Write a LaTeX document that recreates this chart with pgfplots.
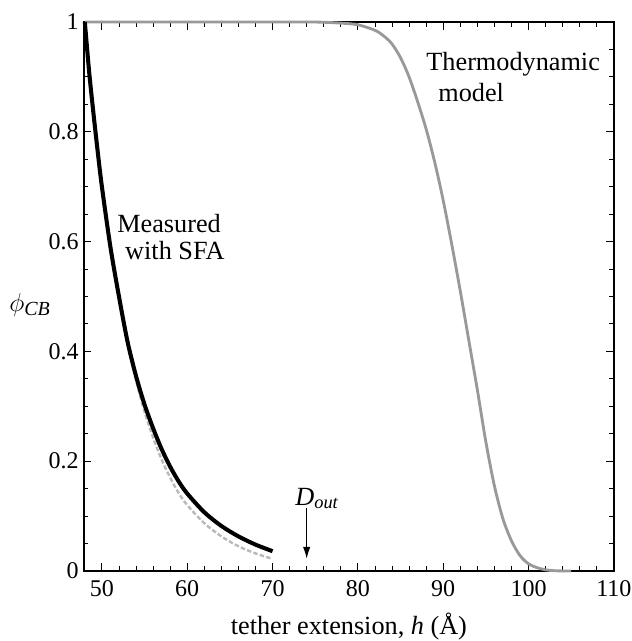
\documentclass[border=0pt]{standalone}
\usepackage{fontspec}
\setmainfont{Liberation Serif}
\usepackage{pgfplots}
\pgfplotsset{compat=1.18}
\usetikzlibrary{arrows.meta}
\begin{document}
\begin{tikzpicture}
\begin{axis}[
 scale only axis, width=353.3pt, height=366pt,
 xmin=47.9, xmax=110, ymin=0, ymax=1,
 xtick={50,60,70,80,90,100,110},
 ytick={0,0.2,0.4,0.6,0.8,1},
 yticklabels={0,0.2,0.4,0.6,0.8,1},
 minor x tick num=4, minor y tick num=3,
 tick align=inside,
 major tick length=5pt, minor tick length=3pt,
 axis line style={line width=0.9pt},
 tick style={line width=0.6pt, black},
 tick label style={font=\fontsize{16}{18}\selectfont},
 xticklabel style={yshift=-3pt},
 /pgf/number format/assume math mode=true,
 xlabel={tether extension, \textit{h} (Å)},
 xlabel style={font=\fontsize{17.5}{20}\selectfont, at={(axis description cs:0.5,0)}, anchor=center, yshift=-37pt},
 clip=false,
]
% Thermodynamic model
\addplot[color=gray!80, line width=1.9pt, smooth] coordinates {
(48,1.0) (60,1.0) (70,1.0) (75,1.0) (78,0.998) (80,0.995) (82,0.985) (83,0.975)
(84,0.96) (85,0.935) (86,0.90) (87,0.855) (88,0.805) (89,0.745) (90,0.675)
(91,0.595) (92,0.51) (93,0.42) (94,0.33) (95,0.235) (96,0.155) (97,0.095)
(98,0.055) (99,0.028) (100,0.013) (101,0.006) (102,0.002) (103,0.0005) (104,0.0) (105,0.0)
};
% SFA fit (gray dashed)
\addplot[color=gray!55, line width=1.6pt, dash pattern=on 3pt off 1.5pt, smooth] coordinates {
(48,1.0) (48.5,0.915) (49,0.84) (49.5,0.77) (50,0.705) (51,0.59) (52,0.495)
(53,0.415) (54,0.347) (55,0.29) (56,0.243) (57,0.203) (58,0.17) (59,0.142)
(60,0.12) (62,0.087) (64,0.063) (66,0.045) (68,0.032) (70,0.022)
};
% Measured with SFA (black)
\addplot[color=black, line width=2.7pt, smooth] coordinates {
(48,1.0) (48.5,0.91) (49,0.835) (49.5,0.765) (50,0.70) (51,0.59) (52,0.50)
(53,0.418) (54,0.355) (55,0.303) (56,0.26) (57,0.222) (58,0.19) (59,0.163)
(60,0.141) (62,0.107) (64,0.082) (66,0.063) (68,0.048) (70,0.036)
};
\node[anchor=base west, inner sep=0pt, font=\fontsize{17.5}{20}\selectfont] at (axis cs:51.77,0.6175) {Measured};
\node[anchor=base west, inner sep=0pt, font=\fontsize{17.5}{20}\selectfont] at (axis cs:52.7,0.5665) {with SFA};
\node[anchor=base west, inner sep=0pt, font=\fontsize{17.5}{20}\selectfont] at (axis cs:88.0,0.9126) {Thermodynamic};
\node[anchor=base west, inner sep=0pt, font=\fontsize{17.5}{20}\selectfont] at (axis cs:89.4,0.855) {model};
\node[anchor=base west, inner sep=0pt, font=\fontsize{17.5}{20}\selectfont] at (axis cs:72.64,0.12) {\textit{D}\textsubscript{\textit{out}}};
\draw[-{Latex[length=8pt,width=5pt]}, line width=1pt] (axis cs:74.0,0.115) -- (axis cs:74.0,0.022);
\node[inner sep=0pt, xshift=-36pt, font=\fontsize{19}{21}\selectfont] at (rel axis cs:0,0.485) {$\phi$\textsubscript{\textit{CB}}};
\coordinate (ll) at (rel axis cs:0,0);
\coordinate (ur) at (rel axis cs:1,1);
\end{axis}
\pgfresetboundingbox
\path[use as bounding box] ([shift={(-56pt,-46.7pt)}]ll) rectangle ([shift={(12pt,14.7pt)}]ur);
\end{tikzpicture}
\end{document}
